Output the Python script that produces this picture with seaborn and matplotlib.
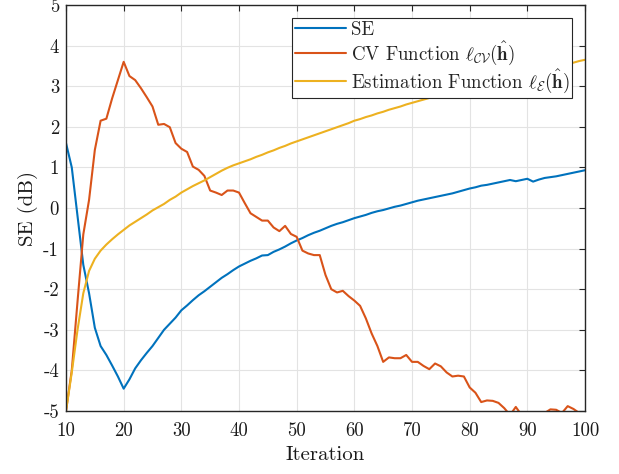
import numpy as np
import pandas as pd
import matplotlib
matplotlib.use("Agg")
import matplotlib.pyplot as plt
import seaborn as sns

iterations = list(range(10, 101))

se_db = [1.6, 1.0, -0.2, -1.4, -2.1, -2.95, -3.4, -3.62, -3.88, -4.15,
         -4.45, -4.22, -3.95, -3.75, -3.57, -3.4, -3.2, -3.0, -2.85, -2.7,
         -2.52, -2.4, -2.27, -2.15, -2.05, -1.94, -1.83, -1.72, -1.63, -1.53,
         -1.44, -1.37, -1.3, -1.24, -1.17, -1.16, -1.08, -1.02, -0.95, -0.87,
         -0.8, -0.74, -0.67, -0.61, -0.56, -0.5, -0.44, -0.39, -0.35, -0.3,
         -0.25, -0.21, -0.17, -0.12, -0.08, -0.05, -0.01, 0.03, 0.06, 0.1,
         0.14, 0.18, 0.21, 0.24, 0.27, 0.3, 0.33, 0.36, 0.4, 0.44,
         0.48, 0.51, 0.55, 0.57, 0.6, 0.63, 0.66, 0.69, 0.66, 0.69,
         0.72, 0.65, 0.7, 0.74, 0.76, 0.78, 0.81, 0.84, 0.87, 0.9,
         0.93]

cv_function = [-5.0, -4.0, -2.3, -0.65, 0.2, 1.43, 2.15, 2.2, 2.7, 3.15,
               3.6, 3.25, 3.15, 2.95, 2.73, 2.5, 2.05, 2.07, 1.99, 1.6,
               1.46, 1.38, 1.02, 0.94, 0.79, 0.43, 0.38, 0.32, 0.43, 0.43,
               0.38, 0.12, -0.13, -0.22, -0.31, -0.31, -0.48, -0.57, -0.44, -0.64,
               -0.71, -1.05, -1.12, -1.16, -1.16, -1.65, -2.0, -2.08, -2.04, -2.17,
               -2.28, -2.41, -2.72, -3.09, -3.4, -3.79, -3.68, -3.7, -3.7, -3.62,
               -3.79, -3.79, -3.89, -3.97, -3.83, -3.9, -4.05, -4.15, -4.13, -4.15,
               -4.42, -4.55, -4.78, -4.74, -4.75, -4.8, -4.93, -5.1, -4.9, -5.1,
               -5.2, -5.2, -5.1, -5.05, -4.96, -4.97, -5.05, -4.88, -4.95, -5.05,
               -5.1]

estimation_function = [-5.0, -4.05, -3.0, -2.1, -1.55, -1.25, -1.05, -0.9, -0.77, -0.65,
                       -0.54, -0.43, -0.34, -0.25, -0.16, -0.06, 0.02, 0.1, 0.2, 0.28,
                       0.38, 0.46, 0.54, 0.61, 0.68, 0.76, 0.84, 0.92, 0.99, 1.05,
                       1.1, 1.15, 1.2, 1.26, 1.31, 1.37, 1.42, 1.48, 1.53, 1.59,
                       1.64, 1.69, 1.74, 1.79, 1.84, 1.89, 1.94, 1.99, 2.04, 2.09,
                       2.15, 2.19, 2.24, 2.28, 2.33, 2.37, 2.42, 2.46, 2.5, 2.55,
                       2.59, 2.63, 2.67, 2.71, 2.74, 2.78, 2.81, 2.85, 2.88, 2.92,
                       2.95, 2.99, 3.02, 3.06, 3.09, 3.13, 3.16, 3.2, 3.23, 3.27,
                       3.3, 3.34, 3.37, 3.41, 3.44, 3.48, 3.51, 3.55, 3.58, 3.62,
                       3.65]

labels = ["SE",
          r"CV Function $\ell_{\mathcal{CV}}(\hat{\mathbf{h}})$",
          r"Estimation Function $\ell_{\mathcal{E}}(\hat{\mathbf{h}})$"]
colors = ["#0072BD", "#D95319", "#EDB120"]

df = pd.concat([
    pd.DataFrame({"Iteration": iterations, "value": se_db, "series": labels[0]}),
    pd.DataFrame({"Iteration": iterations, "value": cv_function, "series": labels[1]}),
    pd.DataFrame({"Iteration": iterations, "value": estimation_function, "series": labels[2]}),
], ignore_index=True)

sns.set_theme(style="whitegrid")
plt.rcParams.update({
    "font.family": "serif",
    "font.serif": ["cmr10", "DejaVu Serif"],
    "mathtext.fontset": "cm",
    "axes.unicode_minus": False,
    "axes.formatter.use_mathtext": False,
    "axes.edgecolor": "#262626",
    "axes.linewidth": 1.0,
    "grid.color": "#e3e3e3",
    "grid.linewidth": 0.8,
    "xtick.direction": "in",
    "ytick.direction": "in",
    "xtick.top": True,
    "ytick.right": True,
    "xtick.major.size": 4,
    "ytick.major.size": 4,
    "xtick.major.width": 0.8,
    "ytick.major.width": 0.8,
    "xtick.color": "#262626",
    "ytick.color": "#262626",
})

fig = plt.figure(figsize=(6.19, 4.74), dpi=100)
ax = fig.add_axes([66 / 619, 1 - 411 / 474, (585 - 66) / 619, (411 - 5) / 474])

sns.lineplot(data=df, x="Iteration", y="value", hue="series", hue_order=labels,
             palette=colors, linewidth=1.5, ax=ax, legend=True)

ax.set_xlim(10, 100)
ax.set_ylim(-5, 5)
ax.set_xticks(np.arange(10, 101, 10))
ax.set_yticks(np.arange(-5, 6, 1))
ax.tick_params(axis="x", labelsize=13.5, pad=8, colors="#262626", labelcolor="#1a1a1a")
ax.tick_params(axis="y", labelsize=13.5, pad=5, colors="#262626", labelcolor="#1a1a1a")
ax.set_xlabel("Iteration", fontsize=15, color="#1a1a1a", labelpad=4)
ax.set_ylabel("SE (dB)", fontsize=15, color="#1a1a1a", labelpad=4)
for s in ax.spines.values():
    s.set_visible(True)
    s.set_color("#262626")

handles, lbls = ax.get_legend_handles_labels()
leg = ax.legend(handles, lbls, loc="upper right", bbox_to_anchor=(0.975, 0.968),
                borderaxespad=0, fontsize=13.6, frameon=True, fancybox=False,
                framealpha=1, edgecolor="#262626", handlelength=2.7,
                handletextpad=0.25, borderpad=0.15, labelspacing=0.02)
leg.get_frame().set_linewidth(0.8)

fig.savefig("out.png", dpi=100)
